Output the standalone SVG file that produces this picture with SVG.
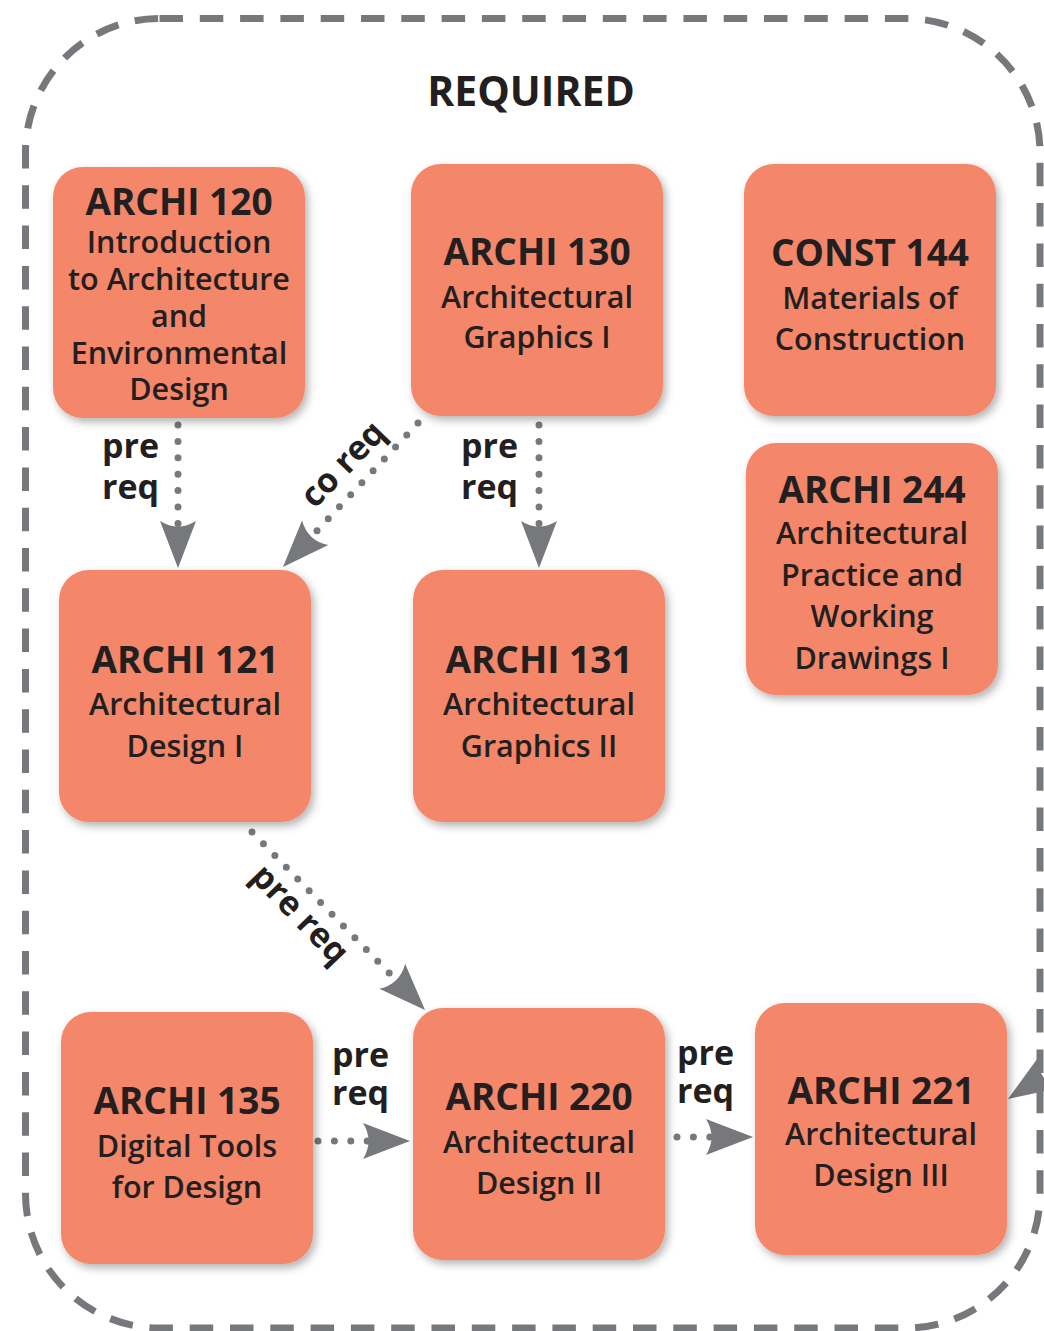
<svg xmlns="http://www.w3.org/2000/svg" xmlns:xlink="http://www.w3.org/1999/xlink" width="1044" height="1331" viewBox="0 0 1044 1331">
<style>
.box{fill:#f48669;filter:url(#sh)}
.t{font-family:"Open Sans","Noto Sans","Liberation Sans",sans-serif;fill:#231f20;text-anchor:middle}
.h{font-size:37px;font-weight:700}
.s{font-size:30.5px;font-weight:600}
.lab{font-family:"Open Sans","Noto Sans","Liberation Sans",sans-serif;fill:#231f20;font-size:34px;font-weight:700}
.dot{fill:none;stroke:#77787b;stroke-width:7;stroke-linecap:round;stroke-dasharray:0 16.4}
.ah{fill:#77787b}
.frame{fill:none;stroke:#77787b;stroke-width:7;stroke-dasharray:23.5 16.8}
</style>
<defs>
<filter id="sh" x="-10%" y="-10%" width="125%" height="125%">
<feDropShadow dx="3" dy="4" stdDeviation="4" flood-color="#000" flood-opacity="0.3"/>
</filter>
<path id="ah" d="M0,0 L-47,-18 Q-36,0 -47,18 Z"/>
</defs>
<rect class="frame" x="25.5" y="18.5" width="1014.5" height="1309.5" rx="134" ry="134"/>
<text class="t" x="531" y="106" style="font-size:41px;font-weight:700">REQUIRED</text>

<g id="connectors">
<g id="c-120-121"><line class="dot" x1="178" y1="425" x2="178" y2="530"/><use href="#ah" class="ah" transform="translate(178,568) rotate(90)"/></g>
<g id="c-130-121"><line class="dot" x1="418" y1="423" x2="312" y2="536"/><use href="#ah" class="ah" transform="translate(283,567) rotate(133.2)"/></g>
<g id="c-130-131"><line class="dot" x1="539" y1="425" x2="539" y2="530"/><use href="#ah" class="ah" transform="translate(539,568) rotate(90)"/></g>
<g id="c-121-220"><line class="dot" x1="252" y1="832" x2="392" y2="976"/><use href="#ah" class="ah" transform="translate(425,1010) rotate(45.8)"/></g>
<g id="c-135-220"><line class="dot" x1="318" y1="1141" x2="372" y2="1141"/><use href="#ah" class="ah" transform="translate(410,1141)"/></g>
<g id="c-220-221"><line class="dot" x1="677" y1="1137" x2="716" y2="1137"/><use href="#ah" class="ah" transform="translate(753,1137)"/></g>
<g id="c-in-221"><use href="#ah" class="ah" transform="translate(1008,1099) rotate(147)"/></g>
<text class="lab" x="102" y="458">pre</text><text class="lab" x="102" y="499">req</text>
<text class="lab" x="461" y="458">pre</text><text class="lab" x="461" y="499">req</text>
<text class="lab" x="332" y="1067">pre</text><text class="lab" x="332" y="1105">req</text>
<text class="lab" x="677" y="1065">pre</text><text class="lab" x="677" y="1103">req</text>
<text class="lab" text-anchor="middle" transform="translate(351,472) rotate(-46)">co req</text>
<text class="lab" text-anchor="middle" transform="translate(292,922) rotate(46)">pre req</text>
</g>

<g id="n-archi120"><rect class="box" x="53" y="167" width="252" height="251" rx="30"/>
<text class="t h" x="179" y="215">ARCHI 120</text>
<text class="t s" x="179" y="253">Introduction</text>
<text class="t s" x="179" y="290">to Architecture</text>
<text class="t s" x="179" y="327">and</text>
<text class="t s" x="179" y="364">Environmental</text>
<text class="t s" x="179" y="400">Design</text></g>

<g id="n-archi130"><rect class="box" x="411" y="164" width="252" height="252" rx="30"/>
<text class="t h" x="537" y="265">ARCHI 130</text>
<text class="t s" x="537" y="308">Architectural</text>
<text class="t s" x="537" y="348">Graphics I</text></g>

<g id="n-const144"><rect class="box" x="744" y="164" width="252" height="252" rx="30"/>
<text class="t h" x="870" y="266">CONST 144</text>
<text class="t s" x="870" y="309">Materials of</text>
<text class="t s" x="870" y="350">Construction</text></g>

<g id="n-archi244"><rect class="box" x="746" y="443" width="252" height="252" rx="30"/>
<text class="t h" x="872" y="503">ARCHI 244</text>
<text class="t s" x="872" y="544">Architectural</text>
<text class="t s" x="872" y="586">Practice and</text>
<text class="t s" x="872" y="627">Working</text>
<text class="t s" x="872" y="669">Drawings I</text></g>

<g id="n-archi121"><rect class="box" x="59" y="570" width="252" height="252" rx="30"/>
<text class="t h" x="185" y="673">ARCHI 121</text>
<text class="t s" x="185" y="715">Architectural</text>
<text class="t s" x="185" y="757">Design I</text></g>

<g id="n-archi131"><rect class="box" x="413" y="570" width="252" height="252" rx="30"/>
<text class="t h" x="539" y="673">ARCHI 131</text>
<text class="t s" x="539" y="715">Architectural</text>
<text class="t s" x="539" y="757">Graphics II</text></g>

<g id="n-archi135"><rect class="box" x="61" y="1012" width="252" height="252" rx="30"/>
<text class="t h" x="187" y="1114">ARCHI 135</text>
<text class="t s" x="187" y="1157">Digital Tools</text>
<text class="t s" x="187" y="1198">for Design</text></g>

<g id="n-archi220"><rect class="box" x="413" y="1008" width="252" height="252" rx="30"/>
<text class="t h" x="539" y="1110">ARCHI 220</text>
<text class="t s" x="539" y="1153">Architectural</text>
<text class="t s" x="539" y="1194">Design II</text></g>

<g id="n-archi221"><rect class="box" x="755" y="1003" width="252" height="252" rx="30"/>
<text class="t h" x="881" y="1104">ARCHI 221</text>
<text class="t s" x="881" y="1145">Architectural</text>
<text class="t s" x="881" y="1186">Design III</text></g>
</svg>
